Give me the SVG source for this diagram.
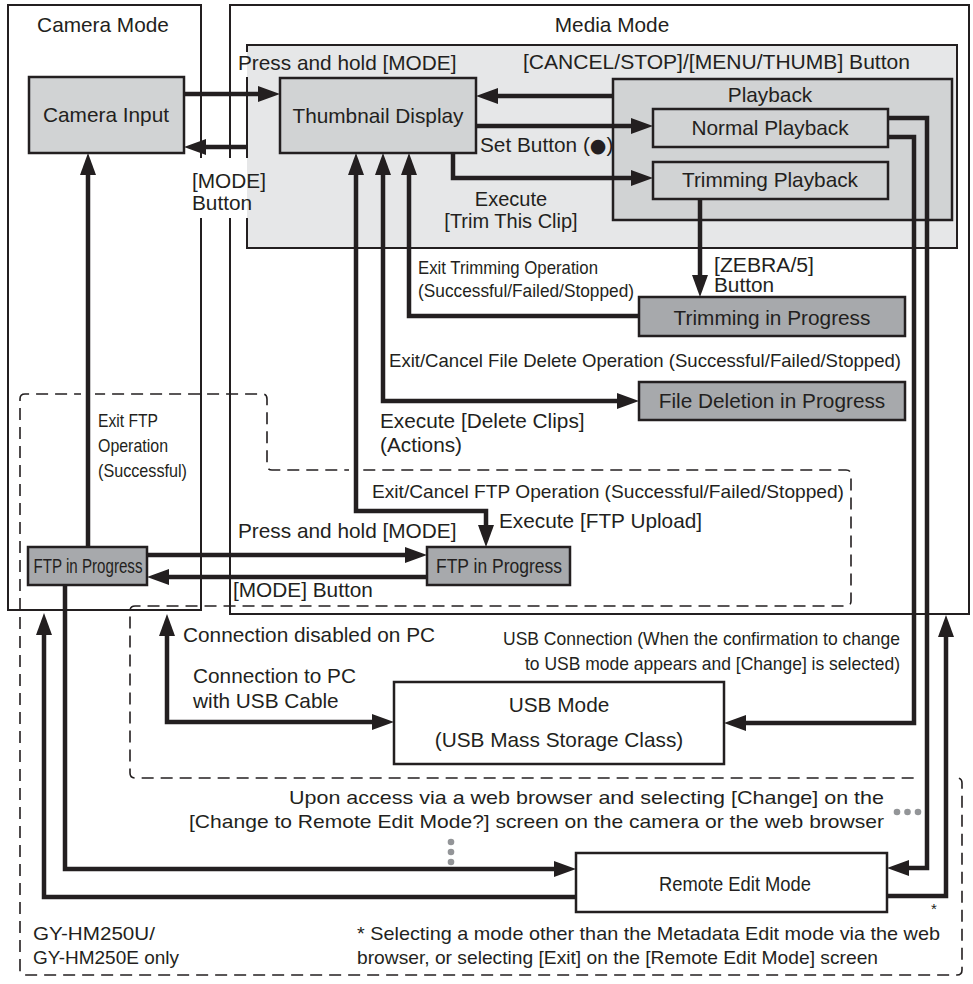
<svg xmlns="http://www.w3.org/2000/svg" width="973" height="984" viewBox="0 0 973 984">
<defs>
<style>
.t{font-family:"Liberation Sans",Arial,Helvetica,"DejaVu Sans",sans-serif;font-size:20.8px;fill:#231f20}
.c{font-size:19px}
.m{text-anchor:middle}
.e{text-anchor:end}
.box{stroke:#231f20;stroke-width:2}
.node{stroke:#231f20;stroke-width:2.5}
.g1{fill:#d1d3d4}
.g2{fill:#a7a9ac}
.w{fill:#ffffff}
.conn{fill:none;stroke:#231f20;stroke-width:4.5;stroke-linejoin:miter;stroke-linecap:butt}
.dash{fill:none;stroke:#231f20;stroke-width:1.6;stroke-dasharray:12 7}
.dot{fill:#939598}
</style>
<marker id="ah" viewBox="0 0 22 16" refX="10" refY="8" markerWidth="22" markerHeight="16" markerUnits="userSpaceOnUse" orient="auto-start-reverse"><path d="M0,0 L22,8 L0,16 Z" fill="#231f20"/></marker>
</defs>
<rect width="973" height="984" fill="#ffffff"/>

<g id="camera-mode"><rect class="box w" x="8" y="5" width="193" height="605"/><text class="t m" x="103" y="32">Camera Mode</text></g>
<g id="media-mode"><rect class="box w" x="230" y="5" width="739" height="609"/><text class="t m" x="612" y="32">Media Mode</text></g>

<g id="hm250-region"><path class="dash" d="M20,399 Q20,394 25,394 H262 Q267,394 267,399 V465 Q267,470 272,470 H846 Q851,470 851,475 V601 Q851,606 846,606 H135 Q130,606 130,611 V773 Q130,778 135,778 H957 Q962,778 962,783 V970 Q962,975 957,975 H25 Q20,975 20,970 Z"/>
<text class="t c" x="33" y="940" textLength="122" lengthAdjust="spacingAndGlyphs">GY-HM250U/</text>
<text class="t c" x="33" y="964" textLength="146" lengthAdjust="spacingAndGlyphs">GY-HM250E only</text></g>

<g id="thumb-panel"><rect x="247" y="45" width="710" height="203" fill="#e6e7e8"/><path d="M247,52 V45 H957 V248 H247 V218 M247,158 V77" fill="none" stroke="#231f20" stroke-width="2"/></g>

<g id="camera-input"><rect class="node g1" x="29" y="77" width="155" height="76"/><text class="t m" x="106" y="122">Camera Input</text></g>
<g id="thumbnail-display"><rect class="node g1" x="280" y="78" width="196" height="75"/><text class="t m" x="378" y="123">Thumbnail Display</text></g>
<g id="playback"><rect class="node g1" x="613" y="79" width="339" height="141"/><text class="t m" x="770" y="102">Playback</text></g>
<g id="normal-playback"><rect class="node g1" x="653" y="109" width="235" height="38"/><text class="t m" x="770" y="135">Normal Playback</text></g>
<g id="trimming-playback"><rect class="node g1" x="653" y="162" width="235" height="37"/><text class="t m" x="770" y="187">Trimming Playback</text></g>
<g id="trimming-progress"><rect class="node g2" x="639" y="297" width="266" height="39"/><text class="t m" x="772" y="325">Trimming in Progress</text></g>
<g id="file-deletion"><rect class="node g2" x="639" y="382" width="266" height="38"/><text class="t m" x="772" y="408">File Deletion in Progress</text></g>
<g id="ftp-left"><rect class="node g2" x="28" y="547" width="119" height="38"/><text class="t m" x="88" y="573" style="font-size:20px" textLength="109" lengthAdjust="spacingAndGlyphs">FTP in Progress</text></g>
<g id="ftp-mid"><rect class="node g2" x="427" y="547" width="143" height="38"/><text class="t m" x="499" y="573" style="font-size:20px" textLength="126" lengthAdjust="spacingAndGlyphs">FTP in Progress</text></g>
<g id="usb-mode"><rect class="node w" x="394" y="682" width="330" height="82"/><text class="t m" x="559" y="712">USB Mode</text><text class="t m" x="559" y="747">(USB Mass Storage Class)</text></g>
<g id="remote-edit"><rect class="node w" x="576" y="853" width="311" height="59"/><text class="t m" x="735" y="891" style="font-size:20.5px" textLength="152" lengthAdjust="spacingAndGlyphs">Remote Edit Mode</text></g>

<g id="knockouts" fill="#ffffff">
<rect x="188" y="158" width="59" height="60"/>
<rect x="81" y="390" width="14" height="8"/>
<rect x="223" y="466" width="14" height="8"/>
<rect x="349" y="466" width="14" height="8"/>
<rect x="920" y="774" width="14" height="8"/>
<rect x="939" y="774" width="14" height="8"/>
</g>
<path d="M230,462 V478" stroke="#231f20" stroke-width="2" fill="none"/>

<g id="connectors" class="conn">
<path marker-end="url(#ah)" d="M184,94 H268"/>
<path marker-end="url(#ah)" d="M247,147 H196"/>
<path marker-end="url(#ah)" d="M613,96 H488"/>
<path marker-end="url(#ah)" d="M476,126 H641"/>
<path marker-end="url(#ah)" d="M453,153 V178 H641"/>
<path marker-end="url(#ah)" d="M700,199 V285"/>
<path marker-end="url(#ah)" d="M639,316 H409 V165"/>
<path marker-start="url(#ah)" marker-end="url(#ah)" d="M383,165 V401 H627"/>
<path marker-start="url(#ah)" marker-end="url(#ah)" d="M356,165 V511 H486 V535"/>
<path marker-end="url(#ah)" d="M88,547 V165"/>
<path marker-end="url(#ah)" d="M147,555 H415"/>
<path marker-end="url(#ah)" d="M427,577 H159"/>
<path marker-start="url(#ah)" marker-end="url(#ah)" d="M167,626 V722 H382"/>
<path marker-end="url(#ah)" d="M888,137 H914 V723 H736"/>
<path marker-end="url(#ah)" d="M888,118 H927 V868 H899"/>
<path marker-end="url(#ah)" d="M887,896 H946 V627"/>
<path marker-end="url(#ah)" d="M65,585 V869 H564"/>
<path marker-end="url(#ah)" d="M576,897 H44 V625"/>
</g>

<g id="dots">
<circle class="dot" cx="897" cy="812" r="3.3"/><circle class="dot" cx="907.5" cy="812" r="3.3"/><circle class="dot" cx="918" cy="812" r="3.3"/>
<circle class="dot" cx="451" cy="842" r="3.3"/><circle class="dot" cx="451" cy="852" r="3.3"/><circle class="dot" cx="451" cy="862" r="3.3"/>
</g>

<g id="labels">
<text class="t" x="238" y="70">Press and hold [MODE]</text>
<text class="t" x="523" y="69" textLength="387" lengthAdjust="spacingAndGlyphs">[CANCEL/STOP]/[MENU/THUMB] Button</text>
<text class="t" x="192" y="188">[MODE]</text>
<text class="t" x="192" y="210">Button</text>
<text class="t" x="480" y="152">Set Button (<tspan style="font-family:'DejaVu Sans',sans-serif;font-size:19px">●</tspan>)</text>
<text class="t m" x="511" y="206" style="font-size:20px">Execute</text>
<text class="t m" x="511" y="228" style="font-size:20px">[Trim This Clip]</text>
<text class="t" x="714" y="272" style="font-size:19.5px" textLength="100" lengthAdjust="spacingAndGlyphs">[ZEBRA/5]</text>
<text class="t" x="714" y="292" style="font-size:19.5px" textLength="60" lengthAdjust="spacingAndGlyphs">Button</text>
<text class="t c" x="418" y="274" textLength="180" lengthAdjust="spacingAndGlyphs">Exit Trimming Operation</text>
<text class="t c" x="418" y="297" textLength="216" lengthAdjust="spacingAndGlyphs">(Successful/Failed/Stopped)</text>
<text class="t c" x="389" y="367" textLength="512" lengthAdjust="spacingAndGlyphs">Exit/Cancel File Delete Operation (Successful/Failed/Stopped)</text>
<text class="t" x="380" y="428">Execute [Delete Clips]</text>
<text class="t" x="380" y="452">(Actions)</text>
<text class="t c" x="98" y="427" textLength="60" lengthAdjust="spacingAndGlyphs">Exit FTP</text>
<text class="t c" x="98" y="452" textLength="70" lengthAdjust="spacingAndGlyphs">Operation</text>
<text class="t c" x="98" y="477" textLength="89" lengthAdjust="spacingAndGlyphs">(Successful)</text>
<text class="t c" x="372" y="498" textLength="472" lengthAdjust="spacingAndGlyphs">Exit/Cancel FTP Operation (Successful/Failed/Stopped)</text>
<text class="t" x="499" y="528">Execute [FTP Upload]</text>
<text class="t" x="238" y="538">Press and hold [MODE]</text>
<text class="t" x="233" y="597">[MODE] Button</text>
<text class="t" x="183" y="642">Connection disabled on PC</text>
<text class="t" x="193" y="683">Connection to PC</text>
<text class="t" x="193" y="708">with USB Cable</text>
<text class="t c e" x="900" y="645" textLength="397" lengthAdjust="spacingAndGlyphs">USB Connection (When the confirmation to change</text>
<text class="t c e" x="900" y="670" textLength="375" lengthAdjust="spacingAndGlyphs">to USB mode appears and [Change] is selected)</text>
<text class="t c e" x="884" y="804" textLength="595" lengthAdjust="spacingAndGlyphs">Upon access via a web browser and selecting [Change] on the</text>
<text class="t c e" x="884" y="828" textLength="695" lengthAdjust="spacingAndGlyphs">[Change to Remote Edit Mode?] screen on the camera or the web browser</text>
<text class="t m" x="934" y="914" style="font-size:15px">*</text>
<text class="t c" x="357" y="940" textLength="583" lengthAdjust="spacingAndGlyphs">* Selecting a mode other than the Metadata Edit mode via the web</text>
<text class="t c" x="357" y="964" textLength="521" lengthAdjust="spacingAndGlyphs">browser, or selecting [Exit] on the [Remote Edit Mode] screen</text>
</g>
</svg>
